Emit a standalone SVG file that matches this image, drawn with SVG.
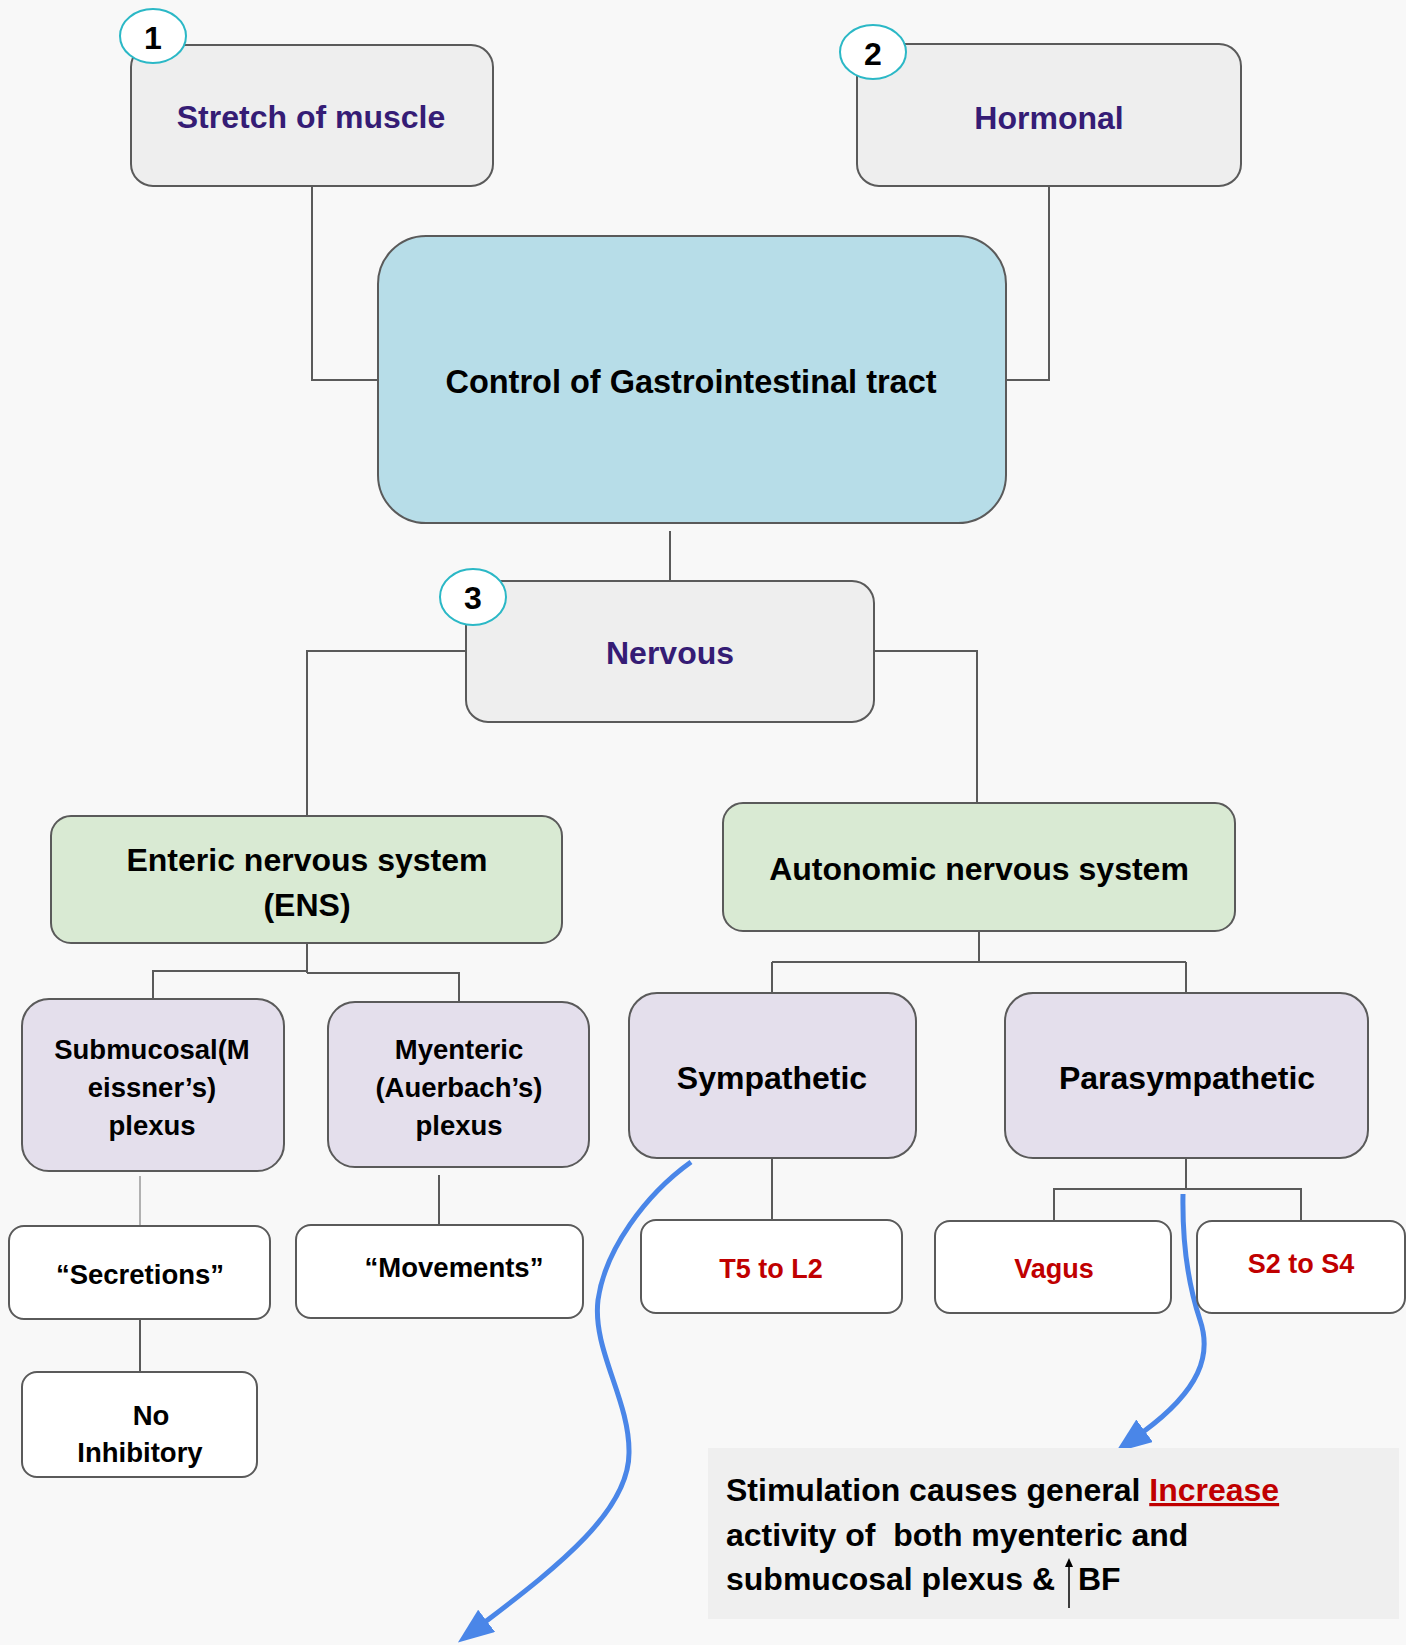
<svg xmlns="http://www.w3.org/2000/svg" width="1415" height="1645" viewBox="0 0 1415 1645">
<style>
  text { font-family: "Liberation Sans", Arial, sans-serif; font-weight: bold; }
  .box { stroke: #5a5a5a; stroke-width: 2; }
  .gray { fill: #eeeeee; }
  .green { fill: #d9ead3; }
  .purple { fill: #e4dfec; }
  .white { fill: #ffffff; }
  .conn { fill: none; stroke: #5a5a5a; stroke-width: 2; }
  .connl { fill: none; stroke: #9a9a9a; stroke-width: 1.5; }
  .badge { fill: #ffffff; stroke: #2bb8c6; stroke-width: 2; }
  .num { font-size: 32px; fill: #000; text-anchor: middle; }
  .ttl { font-size: 32px; fill: #351c75; text-anchor: middle; }
  .blk { font-size: 32px; fill: #000; text-anchor: middle; }
  .sm { font-size: 27.5px; fill: #000; text-anchor: middle; }
  .red { font-size: 27px; fill: #c00000; text-anchor: middle; }
  .blue { fill: none; stroke: #4a86e8; stroke-width: 5; }
  .note { font-size: 32px; fill: #000; white-space: pre; }
</style>
<defs>
  <marker id="ah" markerUnits="userSpaceOnUse" markerWidth="40" markerHeight="30" refX="2" refY="14" orient="auto">
    <path d="M0,0 L36,14 L0,28 Z" fill="#4a86e8"/>
  </marker>
  <marker id="up" markerUnits="userSpaceOnUse" markerWidth="10" markerHeight="10" refX="1" refY="4" orient="auto">
    <path d="M0,0 L9,4 L0,8 Z" fill="#000"/>
  </marker>
</defs>

<rect x="0" y="0" width="1415" height="1645" fill="#ffffff"/>
<rect x="0" y="0" width="1406" height="1645" fill="#f8f8f8"/>

<g id="connectors">
  <path class="conn" d="M312,186 V380 H378"/>
  <path class="conn" d="M1049,186 V380 H1006"/>
  <path class="conn" d="M670,531 V581"/>
  <path class="conn" d="M466,651 H307 V816"/>
  <path class="conn" d="M874,651 H977 V803"/>
  <path class="conn" d="M307,943 V973"/>
  <path class="conn" d="M307,971 H153 V999"/>
  <path class="conn" d="M307,973 H459 V1002"/>
  <path class="conn" d="M979,931 V962"/>
  <path class="conn" d="M772,962 H1186"/>
  <path class="conn" d="M772,962 V993"/>
  <path class="conn" d="M1186,962 V993"/>
  <path class="connl" d="M140,1176 V1226"/>
  <path class="conn" d="M140,1319 V1372"/>
  <path class="conn" d="M439,1175 V1225"/>
  <path class="conn" d="M772,1158 V1220"/>
  <path class="conn" d="M1186,1158 V1189"/>
  <path class="conn" d="M1054,1221 V1189 H1301 V1221"/>
  <path class="blue" marker-end="url(#ah)" d="M691,1162 C645,1195 605,1250 598,1300 C592,1350 630,1400 629,1453 C629,1510 560,1565 485,1622"/>
  <path class="blue" marker-end="url(#ah)" d="M1183,1194 C1182,1250 1190,1290 1200,1320 C1212,1355 1200,1390 1143,1432"/>
</g>

<g id="node-stretch">
  <rect class="box gray" x="131" y="45" width="362" height="141" rx="22"/>
  <text class="ttl" x="311" y="128">Stretch of muscle</text>
</g>
<g id="badge-1">
  <ellipse class="badge" cx="153" cy="36" rx="33" ry="27"/>
  <text class="num" x="153" y="49">1</text>
</g>

<g id="node-hormonal">
  <rect class="box gray" x="857" y="44" width="384" height="142" rx="22"/>
  <text class="ttl" x="1049" y="129">Hormonal</text>
</g>
<g id="badge-2">
  <ellipse class="badge" cx="873" cy="52" rx="33" ry="27"/>
  <text class="num" x="873" y="65">2</text>
</g>

<g id="node-control">
  <rect class="box" fill="#b7dde8" x="378" y="236" width="628" height="287" rx="48"/>
  <text class="blk" x="691" y="393" style="font-size:32.5px">Control of Gastrointestinal tract</text>
</g>

<g id="node-nervous">
  <rect class="box gray" x="466" y="581" width="408" height="141" rx="22"/>
  <text class="ttl" x="670" y="664">Nervous</text>
</g>
<g id="badge-3">
  <ellipse class="badge" cx="473" cy="597" rx="33" ry="28"/>
  <text class="num" x="473" y="609">3</text>
</g>

<g id="node-ens">
  <rect class="box green" x="51" y="816" width="511" height="127" rx="20"/>
  <text class="blk" x="307" y="871">Enteric nervous system</text>
  <text class="blk" x="307" y="916">(ENS)</text>
</g>

<g id="node-ans">
  <rect class="box green" x="723" y="803" width="512" height="128" rx="20"/>
  <text class="blk" x="979" y="880">Autonomic nervous system</text>
</g>

<g id="node-submucosal">
  <rect class="box purple" x="22" y="999" width="262" height="172" rx="27"/>
  <text class="sm" x="152" y="1059">Submucosal(M</text>
  <text class="sm" x="152" y="1097">eissner’s)</text>
  <text class="sm" x="152" y="1135">plexus</text>
</g>

<g id="node-myenteric">
  <rect class="box purple" x="328" y="1002" width="261" height="165" rx="27"/>
  <text class="sm" x="459" y="1059">Myenteric</text>
  <text class="sm" x="459" y="1097">(Auerbach’s)</text>
  <text class="sm" x="459" y="1135">plexus</text>
</g>

<g id="node-sympathetic">
  <rect class="box purple" x="629" y="993" width="287" height="165" rx="28"/>
  <text class="blk" x="772" y="1089">Sympathetic</text>
</g>

<g id="node-parasympathetic">
  <rect class="box purple" x="1005" y="993" width="363" height="165" rx="28"/>
  <text class="blk" x="1187" y="1089">Parasympathetic</text>
</g>

<g id="node-secretions">
  <rect class="box white" x="9" y="1226" width="261" height="93" rx="15"/>
  <text class="sm" x="140" y="1284">“Secretions”</text>
</g>

<g id="node-noinhibitory">
  <rect class="box white" x="22" y="1372" width="235" height="105" rx="15"/>
  <text class="sm" x="151" y="1425">No</text>
  <text class="sm" x="140" y="1462">Inhibitory</text>
</g>

<g id="node-movements">
  <rect class="box white" x="296" y="1225" width="287" height="93" rx="15"/>
  <text class="sm" x="454" y="1277">“Movements”</text>
</g>

<g id="node-t5l2">
  <rect class="box white" x="641" y="1220" width="261" height="93" rx="15"/>
  <text class="red" x="771" y="1278">T5 to L2</text>
</g>

<g id="node-vagus">
  <rect class="box white" x="935" y="1221" width="236" height="92" rx="15"/>
  <text class="red" x="1054" y="1278">Vagus</text>
</g>

<g id="node-s2s4">
  <rect class="box white" x="1197" y="1221" width="208" height="92" rx="15"/>
  <text class="red" x="1301" y="1273">S2 to S4</text>
</g>

<g id="node-note">
  <rect x="708" y="1448" width="691" height="171" fill="#efefef"/>
  <text class="note" x="726" y="1501">Stimulation causes general <tspan fill="#c00000" text-decoration="underline">Increase</tspan></text>
  <text class="note" x="726" y="1546">activity of  both myenteric and</text>
  <text class="note" x="726" y="1590">submucosal plexus &amp; </text>
  <path d="M1069,1608 V1566" stroke="#000" stroke-width="1.5" fill="none" marker-end="url(#up)"/>
  <text class="note" x="1078" y="1590">BF</text>
</g>
</svg>
